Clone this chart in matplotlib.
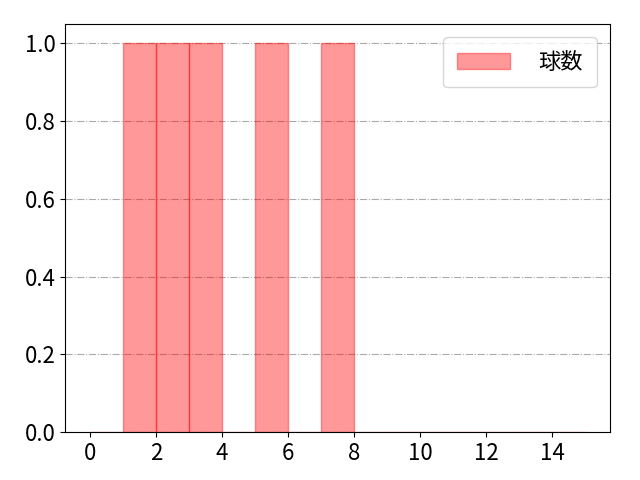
import matplotlib.pyplot as plt
import numpy as np

plt.rcParams['font.family'] = ['Noto Sans CJK JP', 'DejaVu Sans']
plt.rcParams['font.size'] = 16

# observed values (one each)
pitch_values = [1, 2, 3, 5, 7]
bin_edges = np.arange(0, 16)
label = '球数'

fig, ax = plt.subplots(figsize=(6.4, 4.8), dpi=100)
ax.hist(pitch_values, bins=bin_edges, color='red', alpha=0.4,
        edgecolor='red', linewidth=1, label=label)
ax.grid(axis='y', linestyle='-.', color='#aaaaaa', linewidth=0.8)
ax.set_axisbelow(True)
ax.set_xticks(np.arange(0, 15, 2))
ax.legend(loc='upper right', handlelength=2.4, handletextpad=1.3, borderpad=0.6,
          borderaxespad=0.6)
fig.subplots_adjust(left=0.102, right=0.953, top=0.95, bottom=0.1)
fig.savefig('out.png')
